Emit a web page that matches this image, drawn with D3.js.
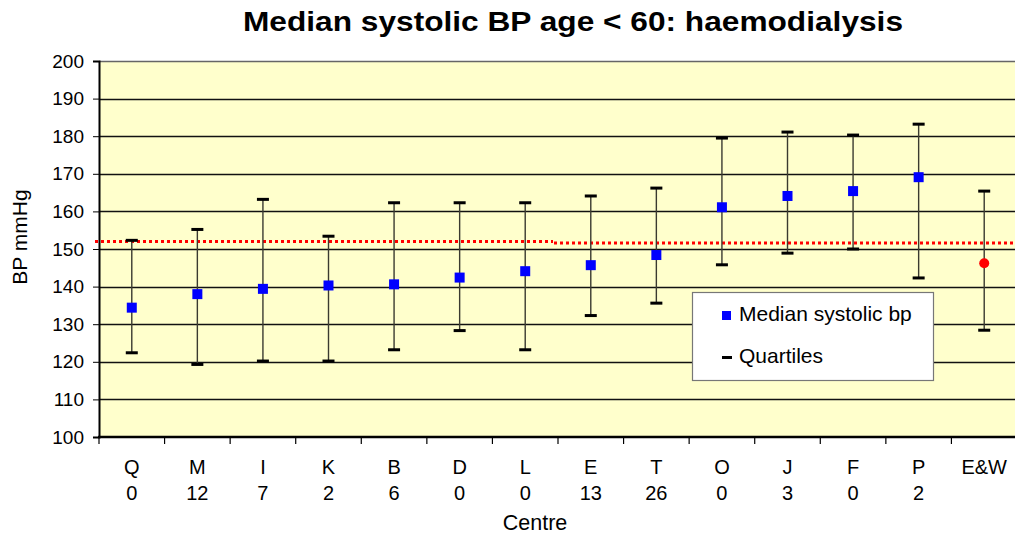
<!DOCTYPE html>
<html>
<head>
<meta charset="utf-8">
<script src="https://cdn.jsdelivr.net/npm/d3@7"></script>
<style>
  body { margin: 0; background: #fff; }
  svg { font-family: "Liberation Sans", Arial, sans-serif; }
</style>
</head>
<body>
<svg id="chart" width="1015" height="537"></svg>
<script>
// centre codes, second label row (counts), and the three series
var centres = ['Q', 'M', 'I', 'K', 'B', 'D', 'L', 'E', 'T', 'O', 'J', 'F', 'P', 'E&W'];
var counts  = ['0', '12', '7', '2', '6', '0', '0', '13', '26', '0', '3', '0', '2', ''];
var medianBp = [134.4, 138.0, 139.4, 140.3, 140.6, 142.4, 144.1, 145.7, 148.4, 161.1, 164.1, 165.4, 169.1, 146.2];
var upperQ   = [152.3, 155.2, 163.2, 153.4, 162.3, 162.3, 162.3, 164.1, 166.2, 179.5, 181.1, 180.3, 183.2, 165.4];
var lowerQ   = [122.4, 119.3, 120.2, 120.2, 123.2, 128.3, 123.2, 132.3, 135.6, 145.8, 148.9, 150.0, 142.3, 128.4];
// England & Wales median reference line (two segments)
var refLine = [
  {from: 'Q', to: 'L', value: 152.0},
  {from: 'E', to: 'E&W', value: 151.6}
];
var yTicks = [100, 110, 120, 130, 140, 150, 160, 170, 180, 190, 200];

var rows = centres.map(function(c, i) {
  return {centre: c, count: counts[i], med: medianBp[i], hi: upperQ[i], lo: lowerQ[i], total: c === 'E&W'};
});

var svg = d3.select('#chart');
var pLeft = 99, pRight = 1017, pTop = 61, pBottom = 437;

var x = d3.scaleBand().domain(centres).range([pLeft, pRight]).padding(0);
var y = d3.scaleLinear().domain([100, 200]).range([pBottom, pTop]);

// plot background
svg.append('rect')
  .attr('x', pLeft).attr('y', pTop)
  .attr('width', pRight - pLeft).attr('height', pBottom - pTop)
  .attr('fill', '#FFFFCC');

// gridlines
svg.append('g')
  .selectAll('line')
  .data(yTicks.filter(function(d) { return d > 100; }))
  .enter()
  .append('line')
  .attr('x1', pLeft).attr('x2', pRight)
  .attr('y1', function(d) { return Math.round(y(d)) + 0.5; })
  .attr('y2', function(d) { return Math.round(y(d)) + 0.5; })
  .attr('stroke', function(d) { return d === 200 ? '#666' : '#111'; })
  .attr('stroke-width', 1.3);

// y axis
var yAxis = svg.append('g')
  .attr('transform', 'translate(' + pLeft + ',0)')
  .call(d3.axisLeft(y).tickValues(yTicks).tickSize(6).tickPadding(9));
yAxis.select('.domain').attr('stroke', '#000').attr('stroke-width', 2);
yAxis.selectAll('.tick line').attr('stroke', '#000');
yAxis.selectAll('.tick text')
  .attr('font-size', '19px')
  .attr('font-family', '"Liberation Sans", Arial, sans-serif')
  .attr('fill', '#000');

// x axis with ticks at category boundaries
var xAxis = svg.append('g')
  .attr('transform', 'translate(0,' + pBottom + ')');
xAxis.append('line')
  .attr('x1', pLeft - 1).attr('x2', pRight)
  .attr('stroke', '#000').attr('stroke-width', 2.5);
xAxis.selectAll('line.tk')
  .data(centres)
  .enter()
  .append('line')
  .attr('class', 'tk')
  .attr('x1', function(d) { return x(d); })
  .attr('x2', function(d) { return x(d); })
  .attr('y1', 0).attr('y2', 7)
  .attr('stroke', '#000').attr('stroke-width', 1.2);

var labels = svg.append('g')
  .selectAll('g')
  .data(rows)
  .enter()
  .append('g')
  .attr('transform', function(d) { return 'translate(' + (x(d.centre) + x.bandwidth() / 2) + ',0)'; });
labels.append('text')
  .attr('y', 474)
  .attr('text-anchor', 'middle')
  .attr('font-size', '20px')
  .text(function(d) { return d.centre; });
labels.append('text')
  .attr('y', 500)
  .attr('text-anchor', 'middle')
  .attr('font-size', '20px')
  .text(function(d) { return d.count; });

// reference line
svg.append('g')
  .selectAll('line')
  .data(refLine)
  .enter()
  .append('line')
  .attr('x1', function(d) { return x(d.from) - 4; })
  .attr('x2', function(d) { return d.to === 'E&W' ? pRight : x(d.to) + x.bandwidth() - 5; })
  .attr('y1', function(d) { return y(d.value); })
  .attr('y2', function(d) { return y(d.value); })
  .attr('stroke', '#FF0000')
  .attr('stroke-width', 3)
  .attr('stroke-dasharray', '3,3');

// quartile bars
var bars = svg.append('g')
  .selectAll('g')
  .data(rows)
  .enter()
  .append('g')
  .attr('transform', function(d) { return 'translate(' + (x(d.centre) + x.bandwidth() / 2) + ',0)'; });
bars.append('line')
  .attr('x1', 0).attr('x2', 0)
  .attr('y1', function(d) { return y(d.hi); })
  .attr('y2', function(d) { return y(d.lo); })
  .attr('stroke', '#3a3a30')
  .attr('stroke-width', 1.4);
bars.append('rect')
  .attr('x', -6).attr('width', 12)
  .attr('y', function(d) { return y(d.hi) - 1.5; })
  .attr('height', 3)
  .attr('fill', '#000');
bars.append('rect')
  .attr('x', -6).attr('width', 12)
  .attr('y', function(d) { return y(d.lo) - 1.5; })
  .attr('height', 3)
  .attr('fill', '#000');

// medians
bars.filter(function(d) { return !d.total; })
  .append('rect')
  .attr('x', -5).attr('width', 10)
  .attr('y', function(d) { return y(d.med) - 5; })
  .attr('height', 10)
  .attr('fill', '#0000FF');
bars.filter(function(d) { return d.total; })
  .append('circle')
  .attr('cy', function(d) { return y(d.med); })
  .attr('r', 5)
  .attr('fill', '#FF0000');

// legend
var legend = svg.append('g');
legend.append('rect')
  .attr('x', 692.5).attr('y', 292.5)
  .attr('width', 241).attr('height', 88)
  .attr('fill', '#fff')
  .attr('stroke', '#777').attr('stroke-width', 1.2);
legend.append('rect')
  .attr('x', 722).attr('y', 311)
  .attr('width', 9).attr('height', 9)
  .attr('fill', '#0000FF');
legend.append('text')
  .attr('x', 739).attr('y', 321)
  .attr('font-size', '21px')
  .text('Median systolic bp');
legend.append('rect')
  .attr('x', 722).attr('y', 356)
  .attr('width', 10).attr('height', 3)
  .attr('fill', '#000');
legend.append('text')
  .attr('x', 739).attr('y', 363)
  .attr('font-size', '21px')
  .text('Quartiles');

// titles
svg.append('text')
  .attr('x', 573).attr('y', 31)
  .attr('text-anchor', 'middle')
  .attr('font-size', '27px')
  .attr('font-weight', 'bold')
  .attr('textLength', 660)
  .attr('lengthAdjust', 'spacingAndGlyphs')
  .text('Median systolic BP age < 60: haemodialysis');
svg.append('text')
  .attr('x', 535).attr('y', 530)
  .attr('text-anchor', 'middle')
  .attr('font-size', '21.5px')
  .text('Centre');
svg.append('text')
  .attr('transform', 'translate(27,237) rotate(-90)')
  .attr('text-anchor', 'middle')
  .attr('font-size', '21px')
  .text('BP mmHg');
</script>
</body>
</html>
